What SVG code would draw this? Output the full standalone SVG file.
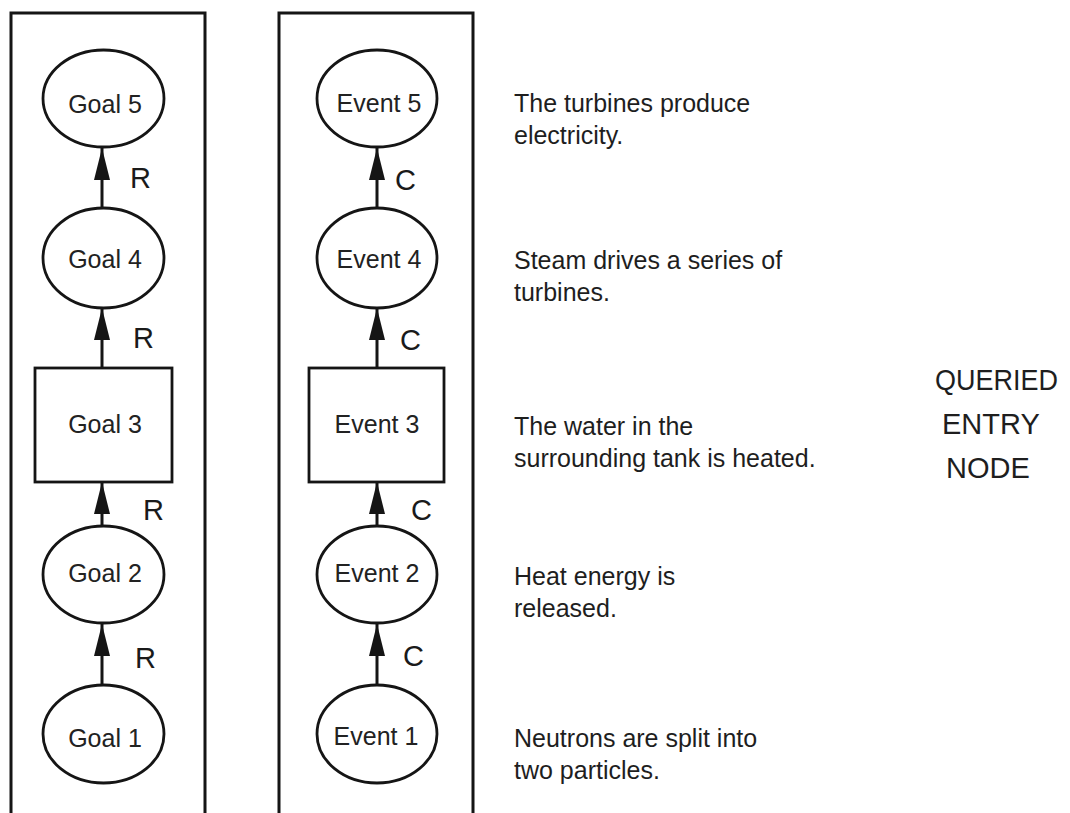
<svg xmlns="http://www.w3.org/2000/svg" width="1070" height="813" viewBox="0 0 1070 813">
<style>
  .frame{fill:none;stroke:#151515;stroke-width:3}
  .node{fill:#fff;stroke:#151515;stroke-width:2.8}
  .lbl{font-family:"Liberation Sans",Arial,Helvetica,sans-serif;font-size:25px;fill:#222;text-anchor:middle}
  .rel{font-family:"Liberation Sans",Arial,Helvetica,sans-serif;font-size:29px;fill:#1a1a1a}
  .desc{font-family:"Liberation Sans",Arial,Helvetica,sans-serif;font-size:25px;fill:#1e1e1e}
  .q{font-family:"Liberation Sans",Arial,Helvetica,sans-serif;font-size:29px;fill:#1e1e1e}
  .edge{stroke:#151515;stroke-width:3;fill:none;marker-end:url(#ah)}
</style>
<defs>
  <marker id="ah" viewBox="0 0 32 16" refX="32" refY="8" markerWidth="32" markerHeight="16" markerUnits="userSpaceOnUse" orient="auto">
    <path d="M0,0 L32,8 L0,16 z" fill="#151515"/>
  </marker>
</defs>
<rect width="1070" height="813" fill="#fff"/>
<g id="frames">
  <path class="frame" d="M11,820 V13 H205 V820"/>
  <path class="frame" d="M279,820 V13 H473 V820"/>
</g>
<g id="connectors">
  <line class="edge" x1="102" y1="208" x2="102" y2="148"/>
  <line class="edge" x1="102" y1="368" x2="102" y2="308"/>
  <line class="edge" x1="102" y1="526" x2="102" y2="482"/>
  <line class="edge" x1="102" y1="685" x2="102" y2="624"/>
  <line class="edge" x1="377" y1="208" x2="377" y2="148"/>
  <line class="edge" x1="377" y1="368" x2="377" y2="308"/>
  <line class="edge" x1="377" y1="526" x2="377" y2="482"/>
  <line class="edge" x1="377" y1="685" x2="377" y2="624"/>
  <text class="rel" x="130" y="188">R</text>
  <text class="rel" x="133" y="348">R</text>
  <text class="rel" x="143" y="520">R</text>
  <text class="rel" x="135" y="668">R</text>
  <text class="rel" x="395" y="190">C</text>
  <text class="rel" x="400" y="350">C</text>
  <text class="rel" x="411" y="520">C</text>
  <text class="rel" x="403" y="666">C</text>
</g>
<g id="goal5"><ellipse class="node" cx="103.5" cy="98.5" rx="60.5" ry="48.5"/><text class="lbl" x="105" y="113">Goal 5</text></g>
<g id="goal4"><ellipse class="node" cx="103.5" cy="258" rx="60.5" ry="50"/><text class="lbl" x="105" y="268">Goal 4</text></g>
<g id="goal3"><rect class="node" x="35" y="368" width="137" height="114"/><text class="lbl" x="105" y="433">Goal 3</text></g>
<g id="goal2"><ellipse class="node" cx="103.5" cy="574.5" rx="60.5" ry="48.5"/><text class="lbl" x="105" y="582">Goal 2</text></g>
<g id="goal1"><ellipse class="node" cx="103.5" cy="734" rx="60.5" ry="49"/><text class="lbl" x="105" y="747">Goal 1</text></g>
<g id="event5"><ellipse class="node" cx="377" cy="98.5" rx="60" ry="48.5"/><text class="lbl" x="379" y="112">Event 5</text></g>
<g id="event4"><ellipse class="node" cx="377" cy="258" rx="60" ry="50"/><text class="lbl" x="379" y="268">Event 4</text></g>
<g id="event3"><rect class="node" x="309" y="368" width="135" height="114"/><text class="lbl" x="377" y="433">Event 3</text></g>
<g id="event2"><ellipse class="node" cx="377" cy="574.5" rx="60" ry="48.5"/><text class="lbl" x="377" y="582">Event 2</text></g>
<g id="event1"><ellipse class="node" cx="377" cy="734" rx="60" ry="49"/><text class="lbl" x="376" y="745">Event 1</text></g>
<g id="descriptions">
  <text class="desc" x="514" y="112">The turbines produce</text>
  <text class="desc" x="514" y="144">electricity.</text>
  <text class="desc" x="514" y="269">Steam drives a series of</text>
  <text class="desc" x="514" y="301">turbines.</text>
  <text class="desc" x="514" y="435">The water in the</text>
  <text class="desc" x="514" y="467">surrounding tank is heated.</text>
  <text class="desc" x="514" y="585">Heat energy is</text>
  <text class="desc" x="514" y="617">released.</text>
  <text class="desc" x="514" y="747">Neutrons are split into</text>
  <text class="desc" x="514" y="779">two particles.</text>
</g>
<g id="queried-entry-node">
  <text class="q" x="935" y="390" textLength="123" lengthAdjust="spacingAndGlyphs">QUERIED</text>
  <text class="q" x="942" y="434">ENTRY</text>
  <text class="q" x="946" y="478">NODE</text>
</g>
</svg>
